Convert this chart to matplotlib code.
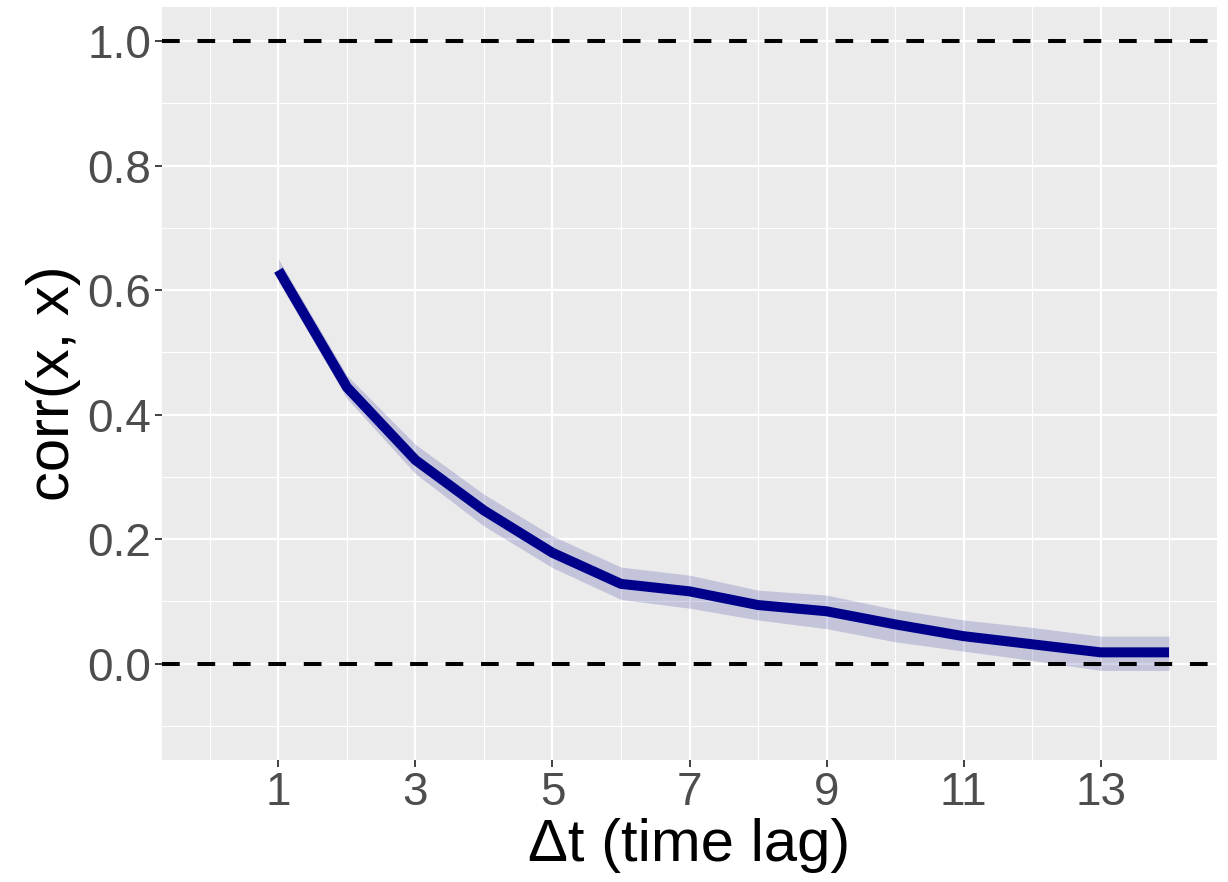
import matplotlib
matplotlib.use("Agg")
import matplotlib.pyplot as plt
import numpy as np

plt.rcParams['font.family'] = ['Liberation Sans', 'DejaVu Sans']

# data
lag = [1, 2, 3, 4, 5, 6, 7, 8, 9, 10, 11, 12, 13, 14]
corr = [0.632, 0.444, 0.327, 0.246, 0.178, 0.128, 0.116, 0.094, 0.084, 0.063, 0.044, 0.031, 0.018, 0.018]
lower = [0.614, 0.426, 0.305, 0.221, 0.154, 0.103, 0.089, 0.070, 0.056, 0.035, 0.020, 0.005, -0.011, -0.011]
upper = [0.650, 0.463, 0.352, 0.272, 0.205, 0.155, 0.142, 0.118, 0.110, 0.087, 0.070, 0.058, 0.044, 0.044]
ref_lines = [0.0, 1.0]
x_ticks = [1, 3, 5, 7, 9, 11, 13]
x_minor = [0, 2, 4, 6, 8, 10, 12, 14]
y_ticks = [0.0, 0.2, 0.4, 0.6, 0.8, 1.0]
y_minor = [-0.1, 0.1, 0.3, 0.5, 0.7, 0.9]
x_range = (0, 14)
y_range = (-0.1, 1.0)

fig = plt.figure(figsize=(12.28, 8.82), dpi=100)
ax = fig.add_axes([162/1228, 1 - 760/882, (1217-162)/1228, (760-7)/882])
ax.set_facecolor('#EBEBEB')

for s in ax.spines.values():
    s.set_visible(False)

# grid
for xm in x_minor:
    ax.axvline(xm, color='white', lw=0.8, zorder=0.5)
for ym in y_minor:
    ax.axhline(ym, color='white', lw=0.8, zorder=0.5)
for xt in x_ticks:
    ax.axvline(xt, color='white', lw=1.6, zorder=0.6)
for yt in y_ticks:
    ax.axhline(yt, color='white', lw=1.6, zorder=0.6)

ax.fill_between(lag, lower, upper, color='#00008B', alpha=0.17, lw=0, zorder=2)
ax.plot(lag, corr, color='#00008B', lw=7.2, solid_capstyle='butt', solid_joinstyle='round', zorder=3)

for r in ref_lines:
    ax.axhline(r, color='black', lw=2.9, linestyle=(0, (4.4, 4.4)), zorder=4)

xpad = 0.05 * (x_range[1] - x_range[0])
ypad = 0.05 * (y_range[1] - y_range[0])
ax.set_xlim(x_range[0] - xpad, x_range[1] + xpad)
ax.set_ylim(y_range[0] - ypad, y_range[1] + ypad)

ax.set_xticks(x_ticks)
ax.set_xticklabels([str(v) for v in x_ticks])
ax.set_yticks(y_ticks)
ax.set_yticklabels([f"{v:.1f}" for v in y_ticks])
ax.tick_params(axis='both', which='major', length=5, width=1.3, color='#333333',
               labelcolor='#4D4D4D', labelsize=33, pad=3)

ax.set_xlabel('Δt (time lag)', fontsize=43, color='black', labelpad=2)
ax.set_ylabel('corr(x, x)', fontsize=43, color='black', labelpad=4)

fig.savefig('out.png', dpi=100)
